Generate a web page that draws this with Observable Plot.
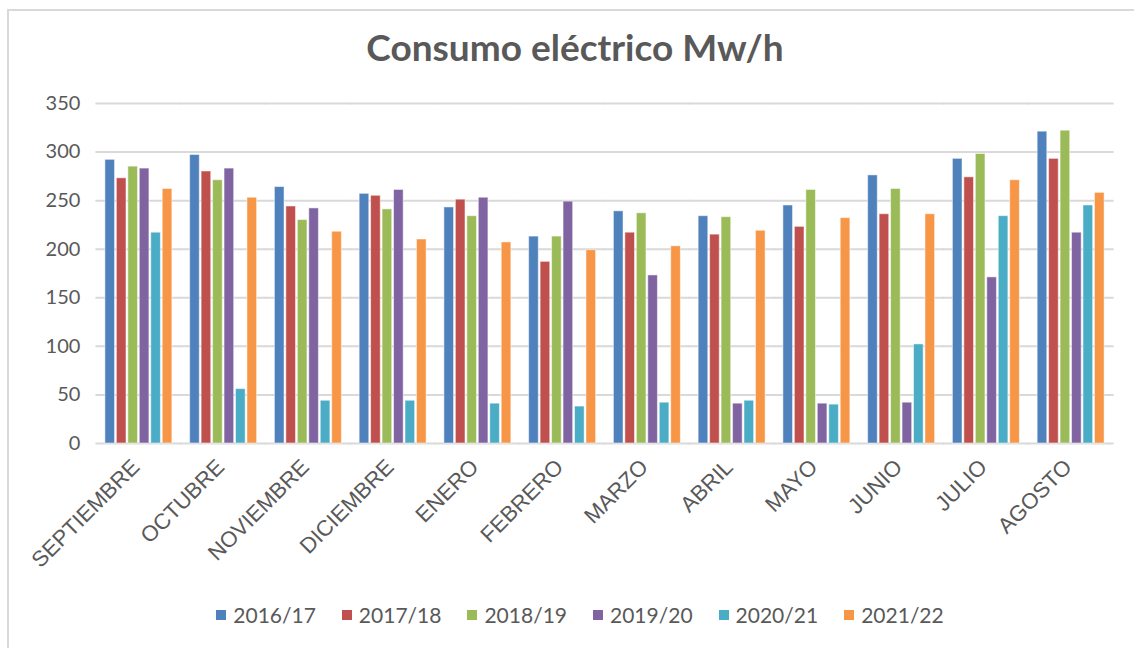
<!DOCTYPE html>
<html>
<head>
<meta charset="utf-8">
<script src="https://cdn.jsdelivr.net/npm/d3@7"></script>
<script src="https://cdn.jsdelivr.net/npm/@observablehq/plot@0.6"></script>
<style>
  html, body { margin: 0; padding: 0; background: #fff; }
  body { width: 1134px; height: 648px; overflow: hidden; position: relative; font-family: Lato, "Open Sans", sans-serif; }
  #frame { position: absolute; left: 7px; top: 9px; width: 1200px; height: 700px; border-left: 2px solid #d9d9d9; border-top: 2px solid #d9d9d9; }
  #title { position: absolute; left: 8px; top: 27px; width: 1134px; text-align: center; font: bold 37px/40px Lato, sans-serif; color: #595959; }
  #chart { position: absolute; left: 0; top: 80px; }
  #legend { position: absolute; left: 13px; top: 603px; width: 1134px; display: flex; justify-content: center; gap: 26px; font: 21px/24px Lato, sans-serif; color: #595959; }
  #legend .item { display: flex; align-items: center; gap: 7px; }
  #legend .sw { width: 10px; height: 10px; display: inline-block; }
</style>
</head>
<body>
<div id="frame"></div>
<div id="title">Consumo eléctrico Mw/h</div>
<div id="chart"></div>
<div id="legend"></div>
<script>
const months = ["SEPTIEMBRE","OCTUBRE","NOVIEMBRE","DICIEMBRE","ENERO","FEBRERO","MARZO","ABRIL","MAYO","JUNIO","JULIO","AGOSTO"];
const seasons = ["2016/17","2017/18","2018/19","2019/20","2020/21","2021/22"];
const colors = ["#4F81BD","#C0504D","#9BBB59","#8064A2","#4BACC6","#F79646"];
const s2016_17 = [292,297,264,257,243,213,239,234,245,276,293,321];
const s2017_18 = [273,280,244,255,251,187,217,215,223,236,274,293];
const s2018_19 = [285,271,230,241,234,213,237,233,261,262,298,322];
const s2019_20 = [283,283,242,261,253,249,173,41,41,42,171,217];
const s2020_21 = [217,56,44,44,41,38,42,44,40,102,234,245];
const s2021_22 = [262,253,218,210,207,199,203,219,232,236,271,258];
const yTicks = [0,50,100,150,200,250,300,350];

const series = [s2016_17, s2017_18, s2018_19, s2019_20, s2020_21, s2021_22];
const data = months.flatMap((m, i) => seasons.map((s, j) => ({month: m, season: s, value: series[j][i]})));

const chart = Plot.plot({
  width: 1134,
  height: 510,
  marginLeft: 96,
  marginRight: 21,
  marginTop: 23,
  marginBottom: 147,
  style: {color: "#595959", fontFamily: "Lato, sans-serif", fontSize: "20px", background: "transparent"},
  fx: {domain: months, paddingInner: 0.21, paddingOuter: 0.105, round: false, label: null},
  x: {domain: seasons, axis: null, paddingInner: 0.16, paddingOuter: 0, round: false},
  y: {domain: [0, 350], ticks: yTicks, label: null, tickSize: 0, tickPadding: 25},
  color: {domain: seasons, range: colors},
  marks: [
    Plot.ruleY(yTicks, {stroke: "#d9d9d9", strokeWidth: 2, insetLeft: -9.5, insetRight: -9.5}),
    Plot.barY(data, {fx: "month", x: "season", y: "value", fill: "season", stroke: "#ffffff", strokeOpacity: 0.5, strokeWidth: 1}),
    Plot.axisFx({anchor: "bottom", label: null, tickRotate: -45, tickSize: 0, tickPadding: 20, dx: -3, fontSize: 22, fontFamily: "'Liberation Sans', Arial, sans-serif"})
  ]
});
document.getElementById("chart").appendChild(chart);

const legend = document.getElementById("legend");
seasons.forEach((s, i) => {
  const item = document.createElement("div");
  item.className = "item";
  const sw = document.createElement("span");
  sw.className = "sw";
  sw.style.background = colors[i];
  const t = document.createElement("span");
  t.textContent = s;
  item.appendChild(sw);
  item.appendChild(t);
  legend.appendChild(item);
});
</script>
</body>
</html>
